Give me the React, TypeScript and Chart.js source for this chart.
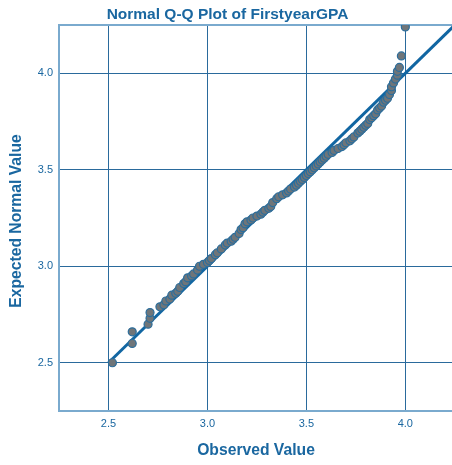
import React, { useEffect, useRef } from "react";
import { Chart, registerables } from "chart.js";

Chart.register(...registerables);

const observed: number[] = [
  2.52, 2.62, 2.62, 2.70, 2.71, 2.71, 2.76, 2.78, 2.79, 2.81, 2.82, 2.84, 2.85, 2.86, 2.88, 2.89,
  2.90, 2.92, 2.93, 2.95, 2.96, 2.98, 3.00, 3.01, 3.02, 3.04, 3.05, 3.07, 3.09, 3.10, 3.12, 3.13,
  3.14, 3.16, 3.17, 3.18, 3.19, 3.20, 3.22, 3.23, 3.25, 3.27, 3.28, 3.29, 3.31, 3.32, 3.33, 3.35,
  3.36, 3.38, 3.40, 3.41, 3.42, 3.44, 3.45, 3.46, 3.47, 3.48, 3.49, 3.50, 3.51, 3.52, 3.53, 3.54,
  3.55, 3.56, 3.57, 3.58, 3.59, 3.60, 3.61, 3.63, 3.64, 3.66, 3.68, 3.69, 3.70, 3.72, 3.73, 3.74,
  3.76, 3.77, 3.78, 3.79, 3.80, 3.81, 3.82, 3.83, 3.84, 3.85, 3.86, 3.87, 3.88, 3.89, 3.90, 3.91,
  3.92, 3.93, 3.93, 3.94, 3.95, 3.96, 3.96, 3.97, 3.98, 4.00,
];
const expected: number[] = [
  2.50, 2.60, 2.66, 2.70, 2.73, 2.76, 2.79, 2.80, 2.82, 2.83, 2.85, 2.86, 2.87, 2.89, 2.91, 2.92,
  2.94, 2.95, 2.96, 2.98, 3.00, 3.01, 3.02, 3.03, 3.04, 3.06, 3.07, 3.09, 3.11, 3.12, 3.13, 3.14,
  3.15, 3.17, 3.19, 3.20, 3.22, 3.23, 3.24, 3.25, 3.26, 3.27, 3.28, 3.29, 3.30, 3.31, 3.33, 3.35,
  3.36, 3.37, 3.38, 3.39, 3.40, 3.41, 3.42, 3.43, 3.44, 3.45, 3.46, 3.47, 3.48, 3.49, 3.50, 3.51,
  3.52, 3.53, 3.54, 3.55, 3.56, 3.57, 3.58, 3.59, 3.60, 3.61, 3.62, 3.63, 3.64, 3.65, 3.66, 3.67,
  3.69, 3.70, 3.71, 3.72, 3.73, 3.74, 3.76, 3.77, 3.78, 3.79, 3.81, 3.82, 3.83, 3.85, 3.86, 3.87,
  3.89, 3.91, 3.93, 3.95, 3.97, 3.99, 4.01, 4.03, 4.09, 4.24,
];
const refLine: number[] = [2.5, 4.25];
const tickValues: number[] = [2.5, 3.0, 3.5, 4.0];
const axisMin = 2.25;
const axisMax = 4.25;

const titleText = "Normal Q-Q Plot of FirstyearGPA";
const xTitle = "Observed Value";
const yTitle = "Expected Normal Value";

const BLUE = "#1a67a0";
const GRID = "#2a6a9c";
const BORDER = "#7aaace";
const FONT = "'Liberation Sans', Arial, sans-serif";

export default function App() {
  const ref = useRef<HTMLCanvasElement | null>(null);

  useEffect(() => {
    document.body.style.margin = "0";
    const canvas = ref.current!;
    const extras = {
      id: "extras",
      beforeDatasetsDraw(chart: any) {
        const ctx = chart.ctx;
        const a = chart.chartArea;
        ctx.save();
        ctx.strokeStyle = BORDER;
        ctx.lineWidth = 2;
        ctx.beginPath();
        ctx.moveTo(a.left, a.top);
        ctx.lineTo(a.right, a.top);
        ctx.lineTo(a.right, a.bottom);
        ctx.stroke();
        ctx.restore();
      },
      afterDraw(chart: any) {
        const ctx = chart.ctx;
        ctx.save();
        ctx.fillStyle = BLUE;
        ctx.font = `bold 15.7px ${FONT}`;
        ctx.textAlign = "center";
        ctx.textBaseline = "middle";
        ctx.fillText(xTitle, 256, 451);
        ctx.translate(17, 221);
        ctx.rotate(-Math.PI / 2);
        ctx.fillText(yTitle, 0, 0);
        ctx.restore();
      },
    };
    const chart = new Chart(canvas, {
      type: "scatter",
      data: {
        datasets: [
          {
            type: "line",
            data: refLine.map((v) => ({ x: v, y: v })),
            borderColor: "#1166a2",
            borderWidth: 3,
            pointRadius: 0,
            fill: false,
            order: 2,
          } as any,
          {
            data: observed.map((x, i) => ({ x, y: expected[i] })),
            backgroundColor: "#6f7579",
            borderColor: "#2c6e9c",
            borderWidth: 1.2,
            pointRadius: 4,
            order: 1,
          },
        ],
      },
      options: {
        animation: false,
        responsive: false,
        layout: { padding: { top: 0, right: 0, bottom: 0, left: 0 } },
        plugins: {
          legend: { display: false },
          tooltip: { enabled: false },
          title: {
            display: true,
            text: titleText,
            color: BLUE,
            font: { family: FONT, size: 15.5, weight: "bold" },
            padding: { top: 5, bottom: 1.4 },
            align: "start",
          },
        },
        scales: {
          x: {
            type: "linear",
            min: axisMin,
            max: axisMax,
            afterBuildTicks: (axis: any) => {
              axis.ticks = tickValues.map((v) => ({ value: v }));
            },
            afterFit: (axis: any) => {
              axis.height = 54;
            },
            ticks: {
              color: BLUE,
              font: { family: FONT, size: 11 },
              padding: 6,
              callback: (v: any) => Number(v).toFixed(1),
            },
            grid: { color: GRID, lineWidth: 1, drawTicks: false },
            border: { color: BORDER, width: 2 },
          },
          y: {
            type: "linear",
            min: axisMin,
            max: axisMax,
            afterBuildTicks: (axis: any) => {
              axis.ticks = tickValues.map((v) => ({ value: v }));
            },
            afterFit: (axis: any) => {
              axis.width = 59;
            },
            ticks: {
              color: BLUE,
              font: { family: FONT, size: 11 },
              padding: 6,
              callback: (v: any) => Number(v).toFixed(1),
            },
            grid: { color: GRID, lineWidth: 1, drawTicks: false },
            border: { color: BORDER, width: 2 },
          },
        },
      },
      plugins: [extras],
    } as any);
    // center the title on the visible area (slightly right, as in the reference)
    const t: any = (chart as any).titleBlock;
    if (t) {
      t.options.align = "center";
      t.left = 3;
      t.right = 452;
      t.width = 449;
      chart.draw();
    }
    return () => chart.destroy();
  }, []);

  return (
    <div style={{ position: "absolute", left: 0, top: 0, width: 452, height: 465, overflow: "hidden" }}>
      <canvas ref={ref} width={460} height={465} />
    </div>
  );
}
